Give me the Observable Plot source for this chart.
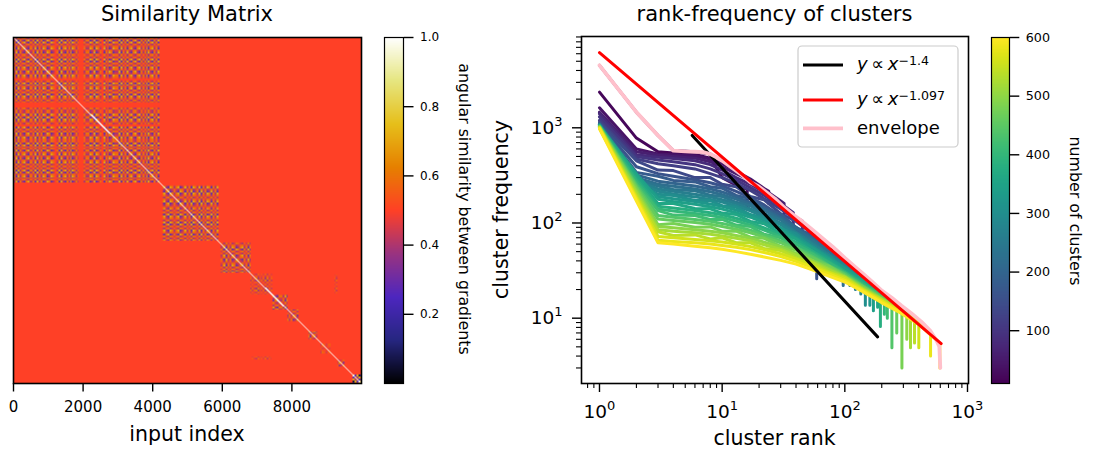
<!DOCTYPE html>
<html>
<head>
<meta charset="utf-8">
<script src="https://cdn.jsdelivr.net/npm/d3@7"></script>
<script src="https://cdn.jsdelivr.net/npm/@observablehq/plot@0.6"></script>
<style>
  body { margin: 0; background: #fff; }
  #fig { position: relative; width: 1094px; height: 459px; overflow: hidden; background: #fff; }
  #fig > svg { position: absolute; }
</style>
</head>
<body>
<div id="fig"></div>
<script>
// ---------------- similarity matrix data ----------------
const nInputs = 10000;
const backgroundSimilarity = 0.5;
const diagonalSimilarity = 1.0;
// clusters along the diagonal: [first index, last index, texture strength]
const clusterBlocks = [
  [0, 4230, 1.0],
  [4270, 5880, 1.0],
  [5880, 6800, 0.95],
  [6810, 7440, 0.55],
  [7440, 7870, 0.9],
  [7870, 8200, 0.8],
  [8490, 8740, 0.8],
  [8830, 9120, 0.4],
  [9310, 9500, 0.7],
  [9740, 10000, 2.2]
];
// off-diagonal similarity: [row from, row to, col from, col to, strength]
const crossBlocks = [[6850, 7400, 9220, 9320, 0.6]];
// inputs with no shared structure inside their cluster
const quietBands = [[1870, 2010]];
const stripeWidth = 56;
const stripeLevels = [
  1,-2,2,-1,1,2,-1,-2,1,1,-1,2,-2,1,-1,2,1,-2,-1,2,1,0,-1,2,-2,1,2,-1,1,-2,2,1,
  -1,1,2,-2,1,-1,-1,2,1,-2,2,1,-1,0,2,-1,1,-2,-1,2,1,1,-2,2,-1,1,-2,1,2,-1,-2,1,
  2,-1,1,-1,2,-2,1,2,-1,1,-2,0,1,2,-1,-2,2,1,-1,1,2,-2,-1,1,2,-1,1,-2,2,1,-1,2,
  -2,1,-1,2,1,-2,1,-1,2,0,-1,1,2,-2,1,-1,2,1,-2,-1,1,2,-1,1,-2,2,-1,1,2,-2,1,-1
];
const textureAmplitude = 0.2;
const inputTicks = [0, 2000, 4000, 6000, 8000];
const cmrStops = ["#000000", "#262680", "#4d26bf", "#993380", "#ff4026", "#e68000", "#e6bf1a", "#e6e680", "#ffffff"];
const similarityTicks = [0.2, 0.4, 0.6, 0.8, 1.0];

// ---------------- rank-frequency data ----------------
const clusterCounts = [10, 20, 40, 60, 80, 100, 120, 140, 160, 180, 200, 220, 240, 260, 280, 300,
                       320, 340, 360, 380, 400, 420, 440, 460, 480, 500, 520, 540, 560, 580, 600];
const rankGrid = [1, 2, 3, 4, 6, 8, 10, 13, 17, 22, 30, 40, 55, 75, 100, 140, 200, 280, 400, 550];
const freqTable = [
  [4530, 1460, 830, 577, 560, 530],
  [2370, 780, 560, 545, 525, 480, 300, 250],
  [1620, 600, 530, 520, 505, 470, 420, 350, 290, 230],
  [1460, 560, 515, 500, 480, 440, 390, 330, 280, 225, 170],
  [1400, 520, 490, 475, 450, 410, 360, 300, 255, 210, 160],
  [1300, 500, 460, 440, 410, 370, 330, 280, 235, 195, 150, 115],
  [1200, 470, 420, 400, 370, 330, 300, 260, 220, 180, 140, 108],
  [1150, 450, 360, 355, 300, 300, 255, 240, 190, 175, 125, 104, 76],
  [1120, 390, 330, 310, 285, 265, 245, 215, 185, 155, 118, 85, 62],
  [1100, 340, 310, 280, 270, 240, 232, 195, 180, 145, 124, 90, 72, 53],
  [1090, 320, 275, 262, 245, 228, 212, 188, 165, 142, 115, 90, 68, 52],
  [1085, 300, 255, 243, 228, 213, 198, 178, 157, 136, 110, 87, 66, 50],
  [1080, 285, 245, 225, 218, 196, 190, 165, 152, 125, 108, 80, 65, 46, 39],
  [1075, 280, 228, 215, 200, 188, 176, 160, 141, 122, 100, 80, 61, 46, 37],
  [1070, 270, 215, 202, 188, 177, 166, 151, 134, 116, 96, 77, 59, 45, 36],
  [1065, 265, 200, 195, 172, 172, 152, 147, 122, 114, 88, 77, 54, 45, 33, 24.5],
  [1060, 290, 190, 180, 168, 158, 150, 137, 122, 107, 89, 72, 56, 43, 34, 25],
  [1055, 330, 178, 168, 157, 148, 140, 128, 115, 101, 85, 69, 54, 42, 33, 25],
  [1050, 315, 160, 160, 142, 141, 127, 123, 104, 98, 77, 68, 50, 41, 31, 24.5],
  [1045, 290, 150, 144, 135, 128, 122, 112, 101, 89, 76, 63, 50, 39, 31, 23.5],
  [1040, 275, 140, 134, 126, 120, 114, 105, 95, 84, 72, 60, 48, 38, 30, 23, 17.5],
  [1035, 258, 135, 121, 120, 109, 109, 95, 92, 76, 70, 55, 47, 35.5, 30, 22, 17.2],
  [1030, 250, 120, 115, 109, 104, 99, 92, 84, 75, 65, 55, 44.5, 35.5, 29, 22, 16.8],
  [1025, 240, 110, 106, 101, 97, 92, 86, 79, 71, 62, 52.5, 43, 35, 28.5, 21.5, 16.5],
  [1020, 232, 96, 99, 90, 91, 82, 82, 71, 69, 57, 52, 40, 35, 27.5, 21.5, 16, 12.7],
  [1015, 218, 92, 89, 85, 82, 79, 74, 69, 63, 56, 48, 40, 33, 27.5, 20.8, 16, 12.5],
  [1010, 208, 85, 82, 79, 76, 73, 69, 65, 59, 53, 46, 38.5, 32, 27, 20.5, 15.8, 12.3],
  [1005, 195, 81, 74, 75, 68, 70, 62, 62, 54, 51.5, 43, 38, 30.5, 27, 20, 15.7, 12.1],
  [1000, 188, 72, 70, 67, 65, 63, 60, 56.5, 52.5, 47.5, 42, 35.5, 30, 26, 20, 15.2, 12, 9.2],
  [990, 180, 66, 64, 62, 60, 58, 55.5, 52.5, 49, 44.5, 39.5, 34, 29, 25, 19.5, 15, 11.8, 8.8],
  [975, 170, 62, 60, 57, 55, 53, 50, 47, 44, 40.5, 37, 32, 27.5, 24, 19, 14.5, 11.5, 8.6, 6.0]
];
// last rank of each run and the frequency drop at that rank
const tailRank = [10, 16, 24, 32, 38, 45, 50, 57, 59, 78, 87, 97, 110, 122, 135, 147,
                  160, 171, 185, 195, 210, 222, 242, 265, 292, 320, 343, 370, 401, 500, 595];
const tailFreq = [450, 225, 215, 160, 128, 105, 90, 74, 48, 52, 44, 40, 35, 31, 28, 21,
                  21, 20, 19, 17.5, 16, 15, 14.5, 13.5, 12, 11.5, 10.5, 10, 9, 7, 5.4];
const dropFreq = [430, 150, 160, 110, 90, 75, 62, 50, 26, 35, 27, 22, 22, 20, 18, 13.7,
                  13.7, 12, 13, 8.2, 11, 10, 4.9, 7, 3, 6, 4.9, 5.5, 4.9, 4, 3];
const envelopeRanks = [1, 2, 3, 4, 5, 6, 7, 8, 9, 10, 12, 14, 17, 20, 23, 27, 32, 38, 45, 55, 65,
                       80, 100, 120, 140, 165, 200, 240, 290, 350, 420, 500, 560, 590, 600];
const envelopeFreqs = [4530, 1460, 830, 577, 565, 560, 555, 530, 490, 450, 380, 330, 268, 240, 210,
                       180, 146, 122, 104, 84, 70, 56, 43, 35, 29.5, 24.5, 19.5, 16.5, 13.5, 11.2,
                       9.2, 7.3, 5.8, 5.0, 3.0];
// power-law guides y = a * x^b
const fitExponents = [-1.4, -1.097];
const fitAmplitudes = [9500, 6150];
const fitRanges = [[5.7, 185], [1, 610]];
const fitColors = ["black", "red"];
const rankMajorTicks = [1, 10, 100, 1000];
const rankMinorTicks = [0.8, 0.9, 2, 3, 4, 5, 6, 7, 8, 9, 20, 30, 40, 50, 60, 70, 80, 90,
                        200, 300, 400, 500, 600, 700, 800, 900];
const freqMajorTicks = [10, 100, 1000];
const freqMinorTicks = [3, 4, 5, 6, 7, 8, 9, 20, 30, 40, 50, 60, 70, 80, 90,
                        200, 300, 400, 500, 600, 700, 800, 900, 2000, 3000, 4000, 5000, 6000, 7000, 8000, 9000];
const clusterCountTicks = [100, 200, 300, 400, 500, 600];

// ---------------- drawing ----------------
const FONT = "'DejaVu Sans', sans-serif";
const fig = document.getElementById("fig");
const place = (svg, left) => { svg.style.left = left + "px"; svg.style.top = "0px"; fig.appendChild(svg); return svg; };
const cmrColor = {type: "linear", domain: cmrStops.map((_, i) => i / (cmrStops.length - 1)), range: cmrStops, interpolate: "rgb"};
const baseStyle = size => ({fontFamily: FONT, fontSize: size, background: "transparent", color: "black", overflow: "visible"});

function stripeWeight(i) {
  for (const [a, b] of quietBands) if (i >= a && i < b) return 0;
  return stripeLevels[Math.floor(i / stripeWidth) % stripeLevels.length] / 2;
}
function blockOf(i) {
  return clusterBlocks.findIndex(([a, b]) => i >= a && i < b);
}
function similarityAt(x, y) {
  if (Math.abs(x - y) < 16) return diagonalSimilarity;
  const bx = blockOf(x);
  if (bx >= 0 && bx === blockOf(y)) {
    const s = clusterBlocks[bx][2];
    return Math.max(0, Math.min(1, backgroundSimilarity + textureAmplitude * s * stripeWeight(x) * stripeWeight(y)));
  }
  for (const [r0, r1, c0, c1, s] of crossBlocks) {
    if ((y >= r0 && y < r1 && x >= c0 && x < c1) || (x >= r0 && x < r1 && y >= c0 && y < c1)) {
      return backgroundSimilarity + textureAmplitude * s * stripeWeight(x) * stripeWeight(y);
    }
  }
  return backgroundSimilarity;
}

const matrixPlot = Plot.plot({
  width: 370, height: 459,
  marginLeft: 13, marginRight: 9, marginTop: 37, marginBottom: 76,
  style: baseStyle("15px"),
  x: {domain: [0, nInputs]},
  y: {domain: [0, nInputs], reverse: true, axis: null},
  color: cmrColor,
  marks: [
    Plot.raster({x1: 0, y1: 0, x2: nInputs, y2: nInputs, width: 348, height: 346, fill: similarityAt}),
    Plot.frame({stroke: "black", strokeWidth: 1.6}),
    Plot.axisX(inputTicks, {tickSize: 8.5, tickPadding: 9, strokeWidth: 1.4, label: null, tickFormat: d => String(d)})
  ]
});
place(matrixPlot, 0);

const similarityBar = Plot.plot({
  width: 110, height: 459,
  marginLeft: 14, marginRight: 77, marginTop: 37, marginBottom: 76,
  style: baseStyle("12px"),
  x: {domain: [0, 1], axis: null},
  y: {domain: [0, 1]},
  color: cmrColor,
  marks: [
    Plot.raster({x1: 0, x2: 1, y1: 0, y2: 1, width: 1, height: 346, fill: (x, y) => y}),
    Plot.frame({stroke: "black", strokeWidth: 1.2}),
    Plot.axisY(similarityTicks, {anchor: "right", tickSize: 9.5, tickPadding: 7, strokeWidth: 1.4, label: null, tickFormat: d3.format(".1f")})
  ]
});
place(similarityBar, 370);

const curvePoints = clusterCounts.flatMap((k, i) => [
  ...freqTable[i].map((freq, j) => ({k, rank: rankGrid[j], freq})),
  {k, rank: tailRank[i], freq: tailFreq[i]},
  {k, rank: tailRank[i], freq: dropFreq[i]}
]);
const envelopePoints = envelopeRanks.map((rank, i) => ({rank, freq: envelopeFreqs[i]}));
const fitPoints = fitExponents.map((b, i) => fitRanges[i].map(rank => ({rank, freq: fitAmplitudes[i] * Math.pow(rank, b)})));
const powerLabel = d => `10^${Math.round(Math.log10(d))}`;

const rankPlot = Plot.plot({
  width: 500, height: 459,
  marginLeft: 101, marginRight: 12, marginTop: 36, marginBottom: 76,
  style: baseStyle("18.5px"),
  x: {type: "log", domain: [0.7135, 1019]},
  y: {type: "log", domain: [2.06, 9100]},
  color: {type: "linear", domain: [10, 600], scheme: "viridis"},
  marks: [
    Plot.line(curvePoints, {x: "rank", y: "freq", z: "k", stroke: "k", strokeWidth: 3}),
    Plot.line(fitPoints[0], {x: "rank", y: "freq", stroke: fitColors[0], strokeWidth: 3}),
    Plot.line(envelopePoints, {x: "rank", y: "freq", stroke: "pink", strokeWidth: 3.8}),
    Plot.line(fitPoints[1], {x: "rank", y: "freq", stroke: fitColors[1], strokeWidth: 3}),
    Plot.frame({stroke: "black", strokeWidth: 1.6}),
    Plot.axisX(rankMajorTicks, {tickSize: 9, tickPadding: 12, strokeWidth: 1.4, label: null, tickFormat: powerLabel}),
    Plot.axisX(rankMinorTicks, {tickSize: 5, strokeWidth: 1.1, label: null, tickFormat: () => ""}),
    Plot.axisY(freqMajorTicks, {tickSize: 9, tickPadding: 10, strokeWidth: 1.4, label: null, tickFormat: powerLabel}),
    Plot.axisY(freqMinorTicks, {tickSize: 5, strokeWidth: 1.1, label: null, tickFormat: () => ""})
  ]
});
// tick labels 10^k -> 10 with a raised exponent
d3.select(rankPlot).selectAll("text").each(function () {
  const m = /^10\^(-?\d+)$/.exec(this.textContent);
  if (!m) return;
  const t = d3.select(this);
  t.text("10");
  t.append("tspan").attr("dy", "-8").attr("font-size", "13px").text(m[1]);
});
place(rankPlot, 480);

const countBar = Plot.plot({
  width: 114, height: 459,
  marginLeft: 11, marginRight: 85, marginTop: 37, marginBottom: 76,
  style: baseStyle("12.7px"),
  x: {domain: [0, 1], axis: null},
  y: {domain: [10, 600]},
  color: {type: "linear", domain: [10, 600], scheme: "viridis"},
  marks: [
    Plot.raster({x1: 0, x2: 1, y1: 10, y2: 600, width: 1, height: 346, fill: (x, y) => y}),
    Plot.frame({stroke: "black", strokeWidth: 1.2}),
    Plot.axisY(clusterCountTicks, {anchor: "right", tickSize: 9.3, tickPadding: 7, strokeWidth: 1.4, label: null, tickFormat: d => String(d)})
  ]
});
place(countBar, 980);

// ---------------- titles, axis labels and legend ----------------
const over = d3.create("svg").attr("width", 1094).attr("height", 459)
  .style("left", "0px").style("top", "0px")
  .attr("font-family", FONT).attr("fill", "black");
const label = (x, y, text, size, rotate = 0) =>
  over.append("text").attr("transform", `translate(${x},${y}) rotate(${rotate})`)
    .attr("text-anchor", "middle").attr("font-size", size).text(text);

label(187, 21, "Similarity Matrix", "21px");
label(187, 441, "input index", "20.5px");
label(459, 209, "angular similarity between gradients", "15.8px", 90);
label(774.5, 21, "rank-frequency of clusters", "21px");
label(774.5, 445, "cluster rank", "20.5px");
label(508, 209.5, "cluster frequency", "20.5px", -90);
label(1070, 211, "number of clusters", "15.8px", 90);

const legend = over.append("g");
legend.append("rect").attr("x", 798).attr("y", 46).attr("width", 160).attr("height", 101).attr("rx", 4)
  .attr("fill", "white").attr("fill-opacity", 0.8).attr("stroke", "#cccccc").attr("stroke-width", 1.2);
const legendRows = [
  {y: 65, color: fitColors[0], width: 3, exponent: fitExponents[0]},
  {y: 100, color: fitColors[1], width: 3, exponent: fitExponents[1]},
  {y: 128.3, color: "pink", width: 3.8, text: "envelope"}
];
for (const row of legendRows) {
  legend.append("line").attr("x1", 803).attr("x2", 843).attr("y1", row.y).attr("y2", row.y)
    .attr("stroke", row.color).attr("stroke-width", row.width);
  const t = legend.append("text").attr("x", 857).attr("y", row.y + 5.3).attr("font-size", "18px");
  if (row.text) { t.text(row.text); continue; }
  t.append("tspan").attr("font-style", "italic").text("y");
  t.append("tspan").text("\u2009\u221d\u2009");
  t.append("tspan").attr("font-style", "italic").text("x");
  t.append("tspan").attr("dy", "-5").attr("font-size", "12.6px").text("\u2212" + String(Math.abs(row.exponent)));
}
fig.appendChild(over.node());
</script>
</body>
</html>
